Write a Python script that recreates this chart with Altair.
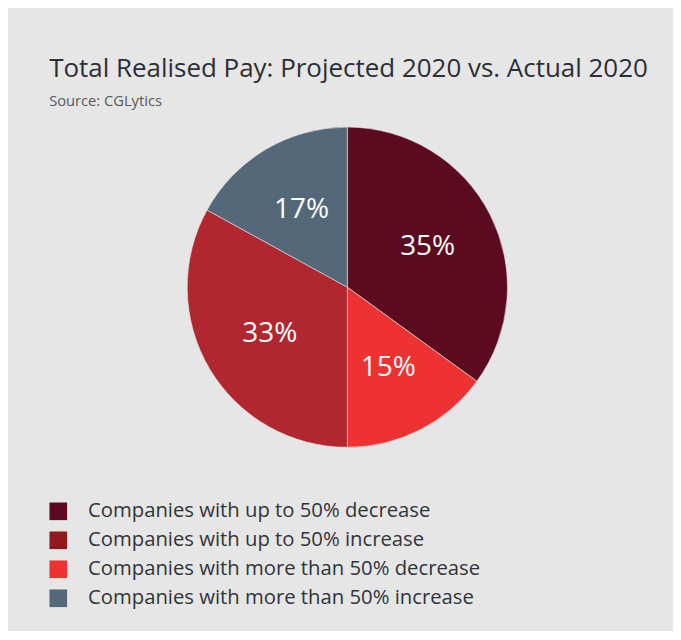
import altair as alt
import pandas as pd

# pie order (clockwise from top)
categories = [
    "Companies with up to 50% decrease",
    "Companies with more than 50% decrease",
    "Companies with up to 50% increase",
    "Companies with more than 50% increase",
]
values = [35, 15, 33, 17]
order = [0, 1, 2, 3]
pie_colors = ["#5c0a1f", "#ee3131", "#b0272f", "#546879"]

legend_order = [
    "Companies with up to 50% decrease",
    "Companies with up to 50% increase",
    "Companies with more than 50% decrease",
    "Companies with more than 50% increase",
]
legend_colors = ["#5c0a1f", "#8e1a1e", "#ee3131", "#546879"]

df = pd.DataFrame({"cat": categories, "value": values, "ord": order})
df["label"] = df["value"].astype(str) + "%"

FONT = "Open Sans"
R = 163.5

base = alt.Chart(df).encode(
    theta=alt.Theta("value:Q", stack=True),
    order=alt.Order("ord:Q"),
)

legend_layer = base.mark_arc(outerRadius=R, opacity=0).encode(
    color=alt.Color(
        "cat:N",
        scale=alt.Scale(domain=legend_order, range=legend_colors),
        legend=alt.Legend(
            title=None,
            orient="none",
            legendX=27,
            legendY=391,
            symbolType="square",
            symbolSize=324,
            symbolOpacity=1,
            symbolStrokeWidth=0,
            labelFont=FONT,
            labelFontSize=20.7,
            labelColor="#30343b",
            labelOffset=20,
            rowPadding=7.6,
            labelLimit=600,
        ),
    )
)

pie = base.mark_arc(outerRadius=R, stroke="#e6e6e6", strokeWidth=0.6).encode(
    fill=alt.Fill(
        "cat:N",
        scale=alt.Scale(domain=categories, range=pie_colors),
        legend=None,
    )
)

labels = base.mark_text(radius=92, font=FONT, fontSize=28.5, color="white").encode(
    text="label:N"
)

chart = (
    alt.layer(legend_layer, pie, labels)
    .resolve_scale(color="independent", fill="independent")
    .properties(
        width=665,
        height=345,
        padding={"left": 14, "top": 42, "right": 0, "bottom": 17},
        background="#e6e6e6",
        title=alt.TitleParams(
            text="Total Realised Pay: Projected 2020 vs. Actual 2020",
            subtitle="Source: CGLytics",
            anchor="start",
            dx=28,
            font=FONT,
            fontSize=26.5,
            fontWeight="normal",
            color="#2b2f36",
            subtitleFont=FONT,
            subtitleFontSize=15,
            subtitleColor="#555a60",
            subtitlePadding=12,
            offset=10,
        ),
    )
    .configure_view(stroke=None)
)

chart.save("out.html", embed_options={"renderer": "svg", "actions": False})
